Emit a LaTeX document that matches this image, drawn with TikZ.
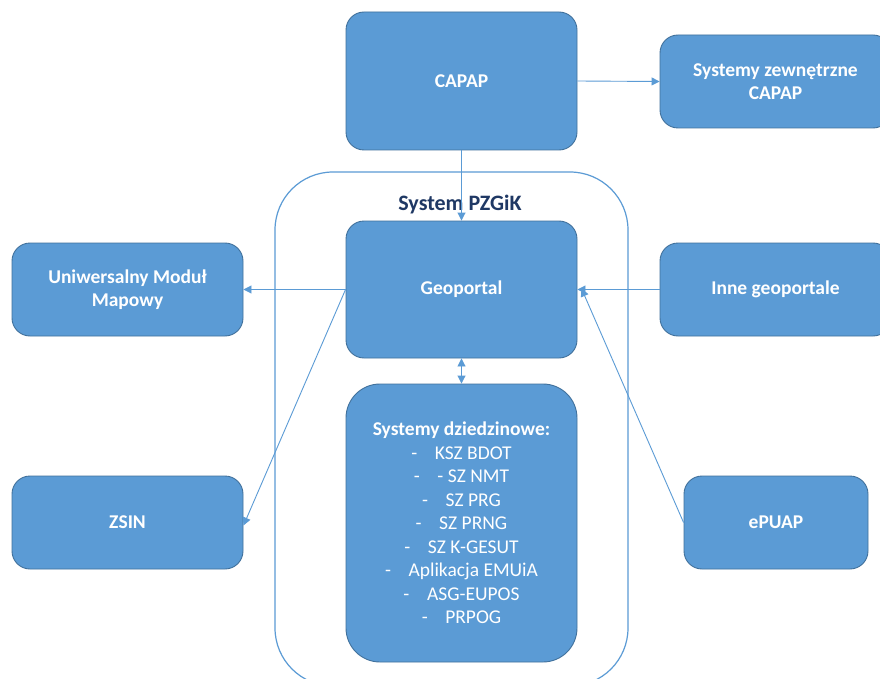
\documentclass[tikz,border=0pt]{standalone}
\usepackage{fontspec}
\setmainfont{Carlito}
\usetikzlibrary{arrows.meta}
\definecolor{boxfill}{HTML}{5B9BD5}
\definecolor{boxedge}{HTML}{41719C}
\definecolor{navy}{HTML}{1F3864}
\tikzset{
  box/.style={draw=boxedge, line width=0.9pt, fill=boxfill, rounded corners=18pt,
    text=white, font=\fontsize{19.5}{23.5}\selectfont\bfseries, align=center, inner sep=0pt},
  conn/.style={draw=boxfill, line width=0.9pt, -{Triangle[width=8pt,length=8pt]}},
  biconn/.style={draw=boxfill, line width=0.9pt, {Triangle[width=8pt,length=8pt]}-{Triangle[width=8pt,length=8pt]}},
}
\begin{document}
\begin{tikzpicture}[x=1pt,y=-1pt]
\clip (0,0) rectangle (880,679);
\fill[white] (0,0) rectangle (880,679);
% container
\draw[boxfill, line width=1.2pt, rounded corners=58pt] (275,172) rectangle (628,686);
\node[text=navy, font=\fontsize{22}{26}\selectfont\bfseries] (pzgik) at (460,205) {System PZGiK};
% boxes
\node[box, minimum width=231pt, minimum height=138pt] (capap) at (461.5,81) {CAPAP};
\node[box, minimum width=231pt, minimum height=93pt] (zew) at (775.5,81.5) {Systemy zewnętrzne\\CAPAP};
\node[box, minimum width=231pt, minimum height=137pt] (geo) at (461.5,289.5) {Geoportal};
\node[box, rounded corners=34pt, minimum width=231pt, minimum height=278pt] (dz) at (461.5,523) {%
  Systemy dziedzinowe:\\
  {\mdseries -\hspace{0.9em}KSZ BDOT}\\
  {\mdseries -\hspace{0.9em}- SZ NMT}\\
  {\mdseries -\hspace{0.9em}SZ PRG}\\
  {\mdseries -\hspace{0.9em}SZ PRNG}\\
  {\mdseries -\hspace{0.9em}SZ K-GESUT}\\
  {\mdseries -\hspace{0.9em}Aplikacja EMUiA}\\
  {\mdseries -\hspace{0.9em}ASG-EUPOS}\\
  {\mdseries -\hspace{0.9em}PRPOG}};
\node[box, minimum width=231pt, minimum height=93pt] (umm) at (127.5,289.5) {Uniwersalny Moduł\\Mapowy};
\node[box, minimum width=231pt, minimum height=93pt] (inne) at (775.5,289.5) {Inne geoportale};
\node[box, minimum width=231pt, minimum height=93pt] (zsin) at (127.5,522.5) {ZSIN};
\node[box, minimum width=184pt, minimum height=93pt] (epuap) at (776,522.5) {ePUAP};
% connectors
\draw[conn] (capap.south) -- (geo.north);
\draw[conn] (capap.east) -- (zew.west);
\draw[conn] (geo.west) -- (umm.east);
\draw[conn] (inne.west) -- (geo.east);
\draw[conn] (geo.west) -- ([yshift=-3pt]zsin.east);
\draw[conn] (epuap.west) -- ([xshift=4pt,yshift=1pt]geo.east);
\draw[biconn] (geo.south) -- (dz.north);
\end{tikzpicture}
\end{document}
